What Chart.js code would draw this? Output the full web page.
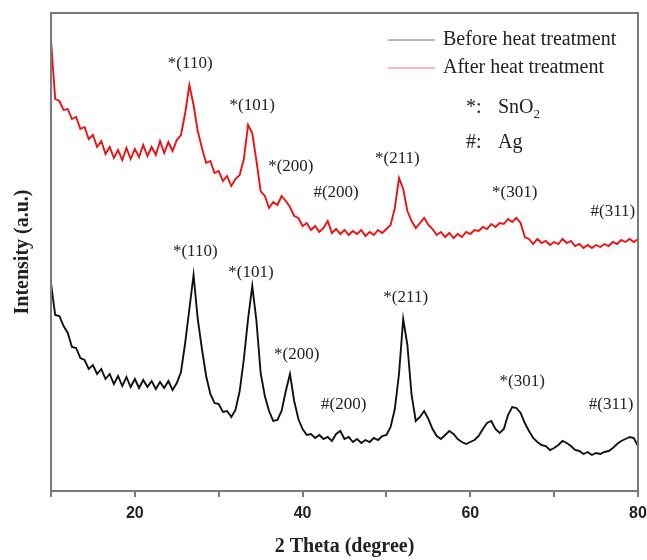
<!DOCTYPE html>
<html>
<head>
<meta charset="utf-8">
<script src="https://cdn.jsdelivr.net/npm/chart.js@4.4.0/dist/chart.umd.min.js"></script>
<style>
	html, body { margin: 0; padding: 0; background: #fff; }
</style>
</head>
<body>
<canvas id="xrd" width="647" height="560"></canvas>
<script>
// ----- ----- -----
// data
// ----- ----- -----

const twoTheta = [
	10, 10.5, 11, 11.5, 12, 12.5, 13, 13.5, 14, 14.5, 15, 15.5, 16, 16.5, 17, 17.5, 18, 18.5, 19, 19.5,
	20, 20.5, 21, 21.5, 22, 22.5, 23, 23.5, 24, 24.5, 25, 25.5, 26, 26.5, 27, 27.5, 28, 28.5, 29, 29.5,
	30, 30.5, 31, 31.5, 32, 32.5, 33, 33.5, 34, 34.5, 35, 35.5, 36, 36.5, 37, 37.5, 38, 38.5, 39, 39.5,
	40, 40.5, 41, 41.5, 42, 42.5, 43, 43.5, 44, 44.5, 45, 45.5, 46, 46.5, 47, 47.5, 48, 48.5, 49, 49.5,
	50, 50.5, 51, 51.5, 52, 52.5, 53, 53.5, 54, 54.5, 55, 55.5, 56, 56.5, 57, 57.5, 58, 58.5, 59, 59.5,
	60, 60.5, 61, 61.5, 62, 62.5, 63, 63.5, 64, 64.5, 65, 65.5, 66, 66.5, 67, 67.5, 68, 68.5, 69, 69.5,
	70, 70.5, 71, 71.5, 72, 72.5, 73, 73.5, 74, 74.5, 75, 75.5, 76, 76.5, 77, 77.5, 78, 78.5, 79, 79.5,
	80
];

const beforeHeat = [
	208, 176, 175, 165, 158, 144, 143, 133, 131, 122, 126, 117, 122, 112, 117, 107, 115, 105, 114, 104,
	112, 103, 111, 104, 110, 102, 109, 103, 110, 101, 108, 119, 148, 182, 216, 172, 142, 115, 97, 88,
	87, 79, 80, 74, 81, 100, 132, 172, 205, 170, 118, 95, 80, 70, 71, 80, 100, 117, 90, 72,
	62, 56, 57, 53, 56, 52, 54, 50, 57, 60, 52, 54, 49, 52, 48, 51, 49, 53, 51, 55,
	56, 64, 82, 117, 172, 146, 96, 70, 74, 80, 72, 62, 55, 52, 56, 60, 57, 52, 49, 47,
	49, 51, 55, 62, 68, 70, 62, 58, 62, 76, 84, 83, 78, 68, 60, 53, 49, 46, 45, 41,
	43, 46, 50, 48, 45, 41, 40, 37, 39, 36, 38, 37, 39, 40, 43, 47, 50, 52, 54, 53,
	45
];

const afterHeat = [
	451, 392, 390, 381, 382, 372, 374, 362, 364, 352, 356, 344, 350, 337, 344, 333, 341, 331, 343, 332,
	342, 334, 346, 335, 344, 336, 350, 338, 349, 340, 351, 356, 378, 406, 386, 360, 343, 328, 330, 318,
	320, 310, 315, 305, 312, 316, 332, 366, 358, 330, 300, 295, 283, 289, 286, 295, 290, 284, 275, 273,
	265, 268, 261, 265, 259, 263, 270, 258, 262, 257, 261, 256, 260, 257, 261, 255, 259, 256, 261, 258,
	262, 266, 283, 313, 302, 280, 270, 263, 268, 273, 266, 262, 256, 259, 254, 258, 253, 257, 254, 259,
	257, 261, 260, 264, 262, 267, 264, 268, 267, 272, 269, 273, 268, 254, 252, 247, 252, 248, 250, 246,
	249, 247, 252, 248, 250, 245, 247, 243, 246, 243, 246, 244, 247, 245, 249, 247, 251, 249, 252, 249,
	252
];

const xTickLabels = [20, 40, 60, 80];

const peakNames = ['*(110)', '*(101)', '*(200)', '#(200)', '*(211)', '*(301)', '#(311)'];
const beforePeakX = [27.2, 33.85, 39.3, 44.9, 52.3, 66.2, 76.8];
const beforePeakY = [239, 218, 136, 86, 193, 109, 86];
const afterPeakX = [26.6, 34.0, 38.6, 44.0, 51.3, 65.3, 77.0];
const afterPeakY = [427, 385, 324, 298, 332, 298, 279];

const legendNames = ['Before heat treatment', 'After heat treatment'];

// ----- ----- -----
// helpers
// ----- ----- -----

function toPoints(xs, ys) {
	return xs.map((x, i) => ({x: x, y: ys[i]}));
}

const serif = "'Liberation Serif', 'Times New Roman', serif";

const decoPlugin = {
	id: 'deco',
	afterDraw(chart) {
		const ctx = chart.ctx;
		const area = chart.chartArea;
		const xs = chart.scales.x;
		const ys = chart.scales.y;

		ctx.save();

		// frame
		ctx.strokeStyle = '#7a7a7a';
		ctx.lineWidth = 2;
		ctx.strokeRect(area.left, area.top, area.right - area.left, area.bottom - area.top);

		// peak labels
		ctx.fillStyle = '#222';
		ctx.font = '17px ' + serif;
		ctx.textAlign = 'center';
		ctx.textBaseline = 'middle';
		peakNames.forEach((name, i) => {
			ctx.fillText(name, xs.getPixelForValue(beforePeakX[i]), ys.getPixelForValue(beforePeakY[i]));
			ctx.fillText(name, xs.getPixelForValue(afterPeakX[i]), ys.getPixelForValue(afterPeakY[i]));
		});

		// legend
		ctx.font = '20px ' + serif;
		ctx.textAlign = 'left';
		chart.data.datasets.forEach((ds, i) => {
			let y = area.top + 27 + i * 28;
			ctx.strokeStyle = ds.borderColor;
			ctx.globalAlpha = 0.6;
			ctx.lineWidth = 1;
			ctx.beginPath();
			ctx.moveTo(388, y);
			ctx.lineTo(435, y);
			ctx.stroke();
			ctx.globalAlpha = 1;
			ctx.fillText(legendNames[i], 443, y);
		});

		// phase key
		ctx.fillText('*:', 466, area.top + 95);
		ctx.fillText('SnO', 498, area.top + 95);
		let w = ctx.measureText('SnO').width;
		ctx.font = '13px ' + serif;
		ctx.fillText('2', 498 + w, area.top + 102);
		ctx.font = '20px ' + serif;
		ctx.fillText('#:', 466, area.top + 130);
		ctx.fillText('Ag', 498, area.top + 130);

		// axis titles
		ctx.font = 'bold 20px ' + serif;
		ctx.textAlign = 'center';
		ctx.fillText('2 Theta (degree)', (area.left + area.right) / 2, 547);
		ctx.translate(23, (area.top + area.bottom) / 2);
		ctx.rotate(-Math.PI / 2);
		ctx.fillText('Intensity (a.u.)', 0, 0);

		ctx.restore();
	}
};

// ----- ----- -----
// chart js
// ----- ----- -----

const xrdChart = new Chart('xrd', {
	type: 'line',
	data: {
		datasets: [{
			label: legendNames[0],
			data: toPoints(twoTheta, beforeHeat),
			borderColor: '#111111',
			borderWidth: 1.9,
			pointRadius: 0,
			tension: 0
		}, {
			label: legendNames[1],
			data: toPoints(twoTheta, afterHeat),
			borderColor: '#ee1111',
			borderWidth: 1.9,
			pointRadius: 0,
			tension: 0
		}]
	},
	options: {
		responsive: false,
		animation: false,
		layout: {
			padding: {left: 51, right: 9, top: 13, bottom: 0}
		},
		plugins: {
			legend: {display: false},
			tooltip: {enabled: false}
		},
		scales: {
			x: {
				type: 'linear',
				min: 10,
				max: 80,
				afterFit: (scale) => {
					scale.height = 69;
					scale.paddingLeft = 0;
					scale.paddingRight = 0;
				},
				grid: {
					drawOnChartArea: false,
					drawTicks: true,
					tickLength: 6,
					color: '#7a7a7a',
					lineWidth: 2
				},
				border: {display: false},
				ticks: {
					stepSize: 10,
					autoSkip: false,
					maxRotation: 0,
					padding: 7,
					color: '#222',
					font: {family: "'Liberation Sans', Arial, sans-serif", size: 16, weight: 'bold'},
					callback: (value) => xTickLabels.includes(value) ? String(value) : ''
				}
			},
			y: {
				display: false,
				min: 0,
				max: 478
			}
		}
	},
	plugins: [decoPlugin]
});
</script>
</body>
</html>
